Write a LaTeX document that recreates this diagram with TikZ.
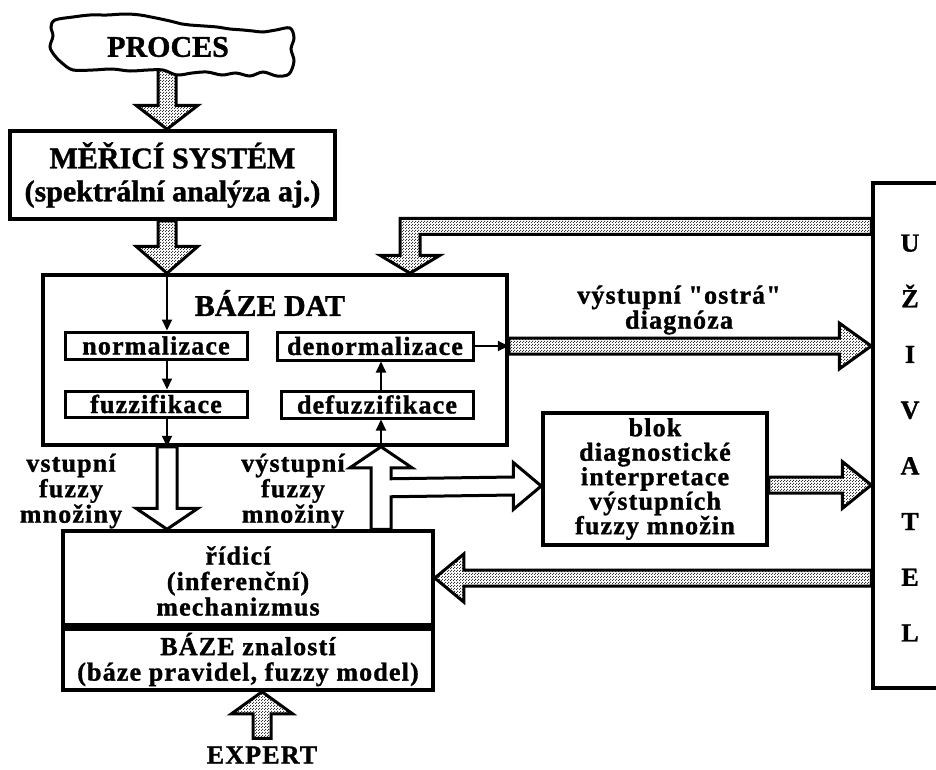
\documentclass[tikz,border=0pt]{standalone}
\usepackage{fontspec}
\setmainfont{Liberation Serif}[Ligatures=TeXOff,BoldFeatures={FakeBold=1.2}]
\usetikzlibrary{calc,arrows.meta,patterns}

% fine stipple used inside the solid block arrows
\pgfdeclarepatternformonly{stipple}{\pgfpointorigin}{\pgfpoint{3pt}{3pt}}{\pgfpoint{3pt}{3pt}}{%
  \pgfpathrectangle{\pgfpointorigin}{\pgfpoint{1.3pt}{1.3pt}}%
  \pgfpathrectangle{\pgfpoint{1.5pt}{1.5pt}}{\pgfpoint{1.3pt}{1.3pt}}%
  \pgfusepath{fill}}

% fat block arrow: [style]{start}{tip}{shaft half width}{head half width}{head length}
\newcommand\fatarrow[6][fat]{%
  \coordinate (hb) at ($(#3)!#6!(#2)$);
  \path[#1] ($(#2)!#4!90:(#3)$) -- ($(hb)!#4!90:(#3)$) -- ($(hb)!#5!90:(#3)$)
    -- (#3) -- ($(hb)!#5!-90:(#3)$) -- ($(hb)!#4!-90:(#3)$) -- ($(#2)!#4!-90:(#3)$) -- cycle;
}

% text faces: body text with a given baseline skip, and headings
\newcommand\bodyskip[1]{\fontsize{26}{#1}\selectfont\bfseries\addfontfeatures{LetterSpace=4.5}}
\newcommand\headfont{\fontsize{30}{33}\selectfont\bfseries}

\begin{document}
\lineskiplimit=-100pt
\begin{tikzpicture}[x=1pt,y=-1pt,
  font={\bodyskip{25.5}},
  box/.style={draw,line width=3.5pt,fill=white,inner sep=0pt,align=center},
  inbox/.style={draw,line width=3pt,fill=white,inner sep=0pt,align=center},
  lbl/.style={align=center,inner sep=0pt},
  thin/.style={line width=2pt,-{Triangle[length=11pt,width=10pt]}},
  fat/.style={draw,line width=3pt,line join=miter,pattern=stipple,pattern color=black!80},
  hollow/.style={draw,line width=3pt,line join=miter,fill=white},
]
\useasboundingbox (0,0) rectangle (936,769);
\clip (0,0) rectangle (936,769);

% column / row guides
\coordinate (c1) at (167,0);
\coordinate (c2) at (381,0);
\coordinate (c3) at (262,0);
\coordinate (r2) at (0,485);
\coordinate (r3) at (0,578);
\coordinate (r4) at (0,486);

% main blocks
\node[box,minimum width=325pt,minimum height=88pt,font=\headfont]
  (mer) at (172.5,175) {MĚŘICÍ SYSTÉM\\(spektrální analýza aj.)};
\node[box,minimum width=464pt,minimum height=170pt] (dat) at (275,360) {};
\node[lbl,font=\headfont] (datt) at (270,303) {BÁZE DAT};
\node[inbox,minimum width=182pt,minimum height=27pt] (norm) at (156,345.5) {normalizace};
\node[inbox,minimum width=182pt,minimum height=26pt] (fuzz) at (156,404) {fuzzifikace};
\node[inbox,minimum width=196pt,minimum height=28pt] (denorm) at (375,346) {denormalizace};
\node[inbox,minimum width=192pt,minimum height=27pt] (defuzz) at (377,404.5) {defuzzifikace};

\node[box,minimum width=370pt,minimum height=94pt] (rid) at (248,578) {};
\node[lbl] (ridt) at (238,581) {řídicí\\(inferenční)\\mechanizmus};
\node[box,minimum width=370pt,minimum height=61pt] (znal) at (248,659.5)
  {BÁZE znalostí\\(báze pravidel, fuzzy model)};

\node[box,minimum width=224pt,minimum height=132pt,font={\bodyskip{24.5}}]
  (blok) at (655,479) {blok\\diagnostické\\interpretace\\výstupních\\fuzzy množin};

\node[box,minimum width=127pt,minimum height=505pt] (uz) at (936.5,435.5) {};
\node[lbl,font=\fontsize{26}{55.7}\selectfont\bfseries] (uzt) at (910,438)
  {U\\Ž\\I\\V\\A\\T\\E\\L};

% labels
\node[lbl] (inlbl) at (71,491) {vstupní\\fuzzy\\množiny};
\node[lbl] (outlbl) at (293,491) {výstupní\\fuzzy\\množiny};
\node[lbl,font={\bodyskip{25}}] (diag) at (679,310) {výstupní "ostrá"\\diagnóza};
\node[lbl] (exp) at (262,755) {EXPERT};

% thin flow inside the data base
\draw[thin] (dat.north -| c1) -- (norm.north -| c1);
\draw[thin] (norm.south -| c1) -- (fuzz.north -| c1);
\draw[thin] (fuzz.south -| c1) -- (dat.south -| c1);
\draw[thin] (dat.south -| c2) -- (defuzz.south -| c2);
\draw[thin] (defuzz.north -| c2) -- (denorm.south -| c2);
\draw[thin] (denorm.east) -- (denorm.east -| dat.east);

% stippled block arrows
\coordinate (pb) at (167,60);
\coordinate (t1) at (mer.north -| c1);
\fatarrow{pb}{t1}{9pt}{31pt}{24pt}
\coordinate (s2) at (mer.south -| c1);
\coordinate (t2) at (dat.north -| c1);
\fatarrow{s2}{t2}{9pt}{31pt}{27pt}
\coordinate (s4) at (denorm.east -| dat.east);
\coordinate (t4) at (denorm.east -| uz.west);
\fatarrow{s4}{t4}{8pt}{23pt}{32pt}
\coordinate (s5) at (blok.east |- r2);
\coordinate (t5) at (uz.west |- r2);
\fatarrow{s5}{t5}{8pt}{23.5pt}{29pt}
\coordinate (s6) at (uz.west |- r3);
\coordinate (t6) at (rid.east |- r3);
\fatarrow{s6}{t6}{8pt}{24pt}{29pt}
\coordinate (s7) at ($(exp.north)+(0,-8)$);
\coordinate (t7) at (znal.south -| c3);
\fatarrow{s7}{t7}{9pt}{30.5pt}{22pt}

% user feedback into the data base (bent arrow)
\coordinate (fbt) at ($(dat.north)+(135,0)$);
\path[fat] ($(uz.north west)+(0,37)$) -- ($(fbt)+(-10,-55)$) -- ($(fbt)+(-10,-18)$)
  -- ($(fbt)+(-30,-18)$) -- (fbt) -- ($(fbt)+(30,-18)$) -- ($(fbt)+(10,-18)$)
  -- ($(fbt)+(10,-39)$) -- ($(uz.north west)+(0,53)$) -- cycle;

% hollow arrows: fuzzy sets in and out of the inference mechanism
\coordinate (s8) at (dat.south -| c1);
\coordinate (t8) at (rid.north -| c1);
\fatarrow[hollow]{s8}{t8}{10pt}{31pt}{21pt}
\coordinate (ut) at (dat.south -| c2);
\coordinate (ub) at (rid.north -| c2);
\coordinate (bt) at (blok.west |- r4);
\path[hollow] ($(ub)+(-10,0)$) -- ($(ut)+(-10,21)$) -- ($(ut)+(-31,21)$) -- (ut)
  -- ($(ut)+(31,21)$) -- ($(ut)+(10,21)$) -- ($(ut)+(10,32)$)
  -- ($(bt)+(-28,-9)$) -- ($(bt)+(-28,-23.5)$) -- (bt) -- ($(bt)+(-28,23.5)$)
  -- ($(bt)+(-28,9)$) -- ($(ut)+(10,50)$) -- ($(ub)+(10,0)$) -- cycle;

% the process cloud
\draw[line width=3pt,fill=white] plot[smooth cycle,tension=0.55] coordinates {
  (55,20) (73,17) (90,15) (107,15) (125,14) (140,15) (156,18) (170,21) (182,24)
  (190,25) (204,26) (217,27) (230,29) (243,30) (253,31) (263,32) (276,30) (290,28)
  (294,38) (291,49) (294,61) (289,74) (277,76) (263,72) (250,76) (236,73)
  (222,75) (207,72) (192,73) (177,75) (163,70) (148,70) (130,71) (112,69)
  (93,70) (73,70) (62,63) (55,56) (50,47) (53,36) (51,27)};
\node[lbl,font=\headfont] (proc) at (168,47) {PROCES};
\end{tikzpicture}
\end{document}
